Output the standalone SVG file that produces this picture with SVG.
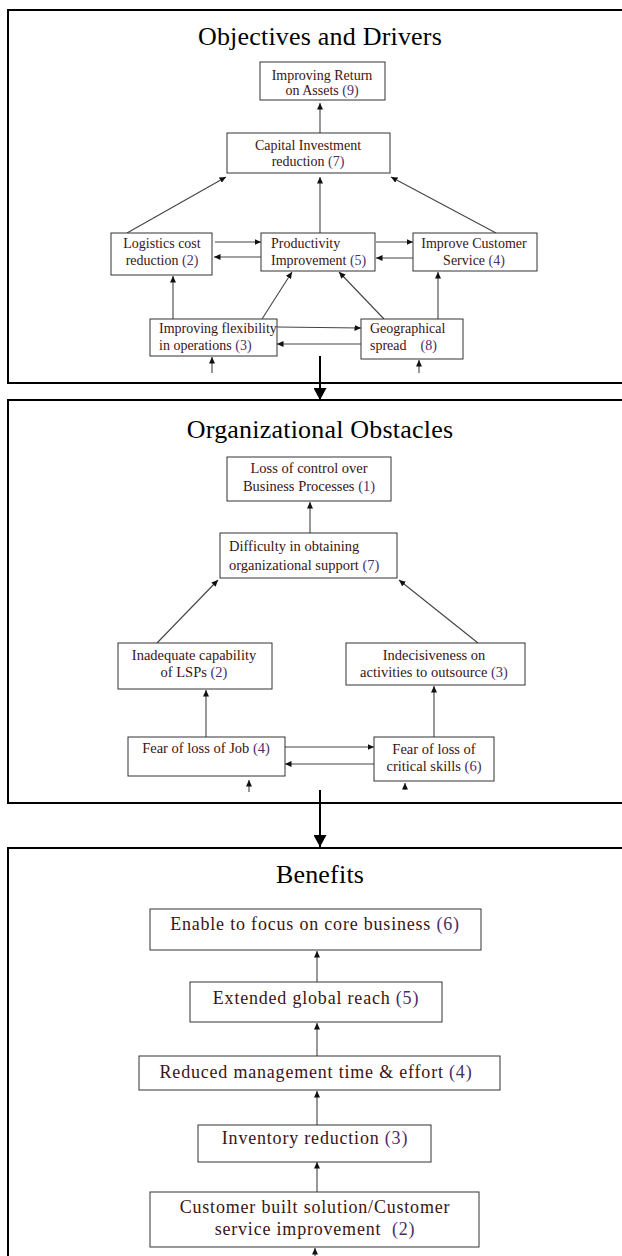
<svg xmlns="http://www.w3.org/2000/svg" width="622" height="1256" viewBox="0 0 622 1256">
<style>
.frame{fill:none;stroke:#000;stroke-width:2}
.title{font-family:"Liberation Serif","Times New Roman",serif;font-size:26px;letter-spacing:0.2px;fill:#000;text-anchor:middle}
.box{fill:#fff;stroke:#333;stroke-width:1}
.t{font-family:"Liberation Serif","Times New Roman",serif;font-size:14px;fill:#3a1414}
.tm{font-size:14.5px}
.tb{font-size:18px;letter-spacing:0.8px}
.c{text-anchor:middle}
.n{fill:#4a2f66}
.con{fill:none;stroke:#444;stroke-width:1.1}
.big{fill:none;stroke:#000;stroke-width:2}
</style>
<defs>
<marker id="ah" markerUnits="userSpaceOnUse" markerWidth="7" markerHeight="6" refX="6.5" refY="3" orient="auto">
<path d="M0,0 L6.5,3 L0,6 z" fill="#111"/>
</marker>
<marker id="ahb" markerUnits="userSpaceOnUse" markerWidth="13" markerHeight="13" refX="12" refY="6.5" orient="auto">
<path d="M0,0 L12,6.5 L0,13 z" fill="#000"/>
</marker>
</defs>

<g id="frames">
<path class="frame" d="M640,10 H8 V383 H640"/>
<path class="frame" d="M640,400 H8 V803 H640"/>
<path class="frame" d="M640,848 H8 V1260"/>
</g>

<g id="titles">
<text class="title" x="320" y="45">Objectives and Drivers</text>
<text class="title" x="320" y="438">Organizational Obstacles</text>
<text class="title" x="320" y="883">Benefits</text>
</g>

<g id="connectors">
<line class="con" x1="320" y1="133" x2="320" y2="103" marker-end="url(#ah)"/>
<line class="con" x1="127" y1="233" x2="226" y2="177" marker-end="url(#ah)"/>
<line class="con" x1="320" y1="233" x2="320" y2="177" marker-end="url(#ah)"/>
<line class="con" x1="496" y1="233" x2="391" y2="177" marker-end="url(#ah)"/>
<line class="con" x1="215" y1="242" x2="261" y2="242" marker-end="url(#ah)"/>
<line class="con" x1="261" y1="257" x2="214" y2="257" marker-end="url(#ah)"/>
<line class="con" x1="376" y1="242" x2="413" y2="242" marker-end="url(#ah)"/>
<line class="con" x1="413" y1="258" x2="376" y2="258" marker-end="url(#ah)"/>
<line class="con" x1="173" y1="319" x2="173" y2="276" marker-end="url(#ah)"/>
<line class="con" x1="262" y1="319" x2="292" y2="272" marker-end="url(#ah)"/>
<line class="con" x1="384" y1="319" x2="339" y2="272" marker-end="url(#ah)"/>
<line class="con" x1="438" y1="319" x2="438" y2="272" marker-end="url(#ah)"/>
<line class="con" x1="277" y1="327" x2="361" y2="328" marker-end="url(#ah)"/>
<line class="con" x1="361" y1="344" x2="277" y2="344" marker-end="url(#ah)"/>
<line class="con" x1="212" y1="373" x2="212" y2="357" marker-end="url(#ah)"/>
<line class="con" x1="419" y1="373" x2="419" y2="360" marker-end="url(#ah)"/>
<line class="big" x1="320" y1="356" x2="320" y2="400" marker-end="url(#ahb)"/>

<line class="con" x1="310" y1="533" x2="310" y2="502" marker-end="url(#ah)"/>
<line class="con" x1="157" y1="643" x2="218" y2="580" marker-end="url(#ah)"/>
<line class="con" x1="478" y1="643" x2="399" y2="580" marker-end="url(#ah)"/>
<line class="con" x1="206" y1="737" x2="206" y2="690" marker-end="url(#ah)"/>
<line class="con" x1="434" y1="737" x2="434" y2="686" marker-end="url(#ah)"/>
<line class="con" x1="285" y1="747" x2="374" y2="747" marker-end="url(#ah)"/>
<line class="con" x1="374" y1="764" x2="285" y2="764" marker-end="url(#ah)"/>
<line class="con" x1="249" y1="792" x2="249" y2="780" marker-end="url(#ah)"/>
<line class="con" x1="405" y1="790" x2="405" y2="783" marker-end="url(#ah)"/>
<line class="big" x1="320" y1="790" x2="320" y2="847" marker-end="url(#ahb)"/>

<line class="con" x1="317" y1="982" x2="317" y2="951" marker-end="url(#ah)"/>
<line class="con" x1="317" y1="1056" x2="317" y2="1023" marker-end="url(#ah)"/>
<line class="con" x1="317" y1="1125" x2="317" y2="1091" marker-end="url(#ah)"/>
<line class="con" x1="317" y1="1192" x2="317" y2="1162" marker-end="url(#ah)"/>
<line class="con" x1="315" y1="1258" x2="315" y2="1248" marker-end="url(#ah)"/>
</g>

<g id="n-roa">
<rect class="box" x="260" y="62" width="125" height="38"/>
<text class="t c" x="322" y="80">Improving Return</text>
<text class="t c" x="322" y="95">on Assets <tspan class="n">(9)</tspan></text>
</g>
<g id="n-capital">
<rect class="box" x="227" y="133" width="163" height="40"/>
<text class="t c" x="308" y="150">Capital Investment</text>
<text class="t c" x="308" y="166">reduction <tspan class="n">(7)</tspan></text>
</g>
<g id="n-logistics">
<rect class="box" x="111" y="233" width="101" height="42"/>
<text class="t c" x="162" y="248">Logistics cost</text>
<text class="t c" x="162" y="265">reduction <tspan class="n">(2)</tspan></text>
</g>
<g id="n-productivity">
<rect class="box" x="261" y="233" width="114" height="38"/>
<text class="t" x="271" y="248">Productivity</text>
<text class="t" x="271" y="265">Improvement <tspan class="n">(5)</tspan></text>
</g>
<g id="n-customer">
<rect class="box" x="413" y="233" width="124" height="38"/>
<text class="t c" x="474" y="248">Improve Customer</text>
<text class="t c" x="474" y="265">Service <tspan class="n">(4)</tspan></text>
</g>
<g id="n-flexibility">
<rect class="box" x="150" y="319" width="127" height="37"/>
<text class="t" x="159" y="333">Improving flexibility</text>
<text class="t" x="159" y="350">in operations <tspan class="n">(3)</tspan></text>
</g>
<g id="n-geo">
<rect class="box" x="361" y="319" width="102" height="40"/>
<text class="t" x="370" y="333">Geographical</text>
<text class="t" x="370" y="350" xml:space="preserve">spread    <tspan class="n">(8)</tspan></text>
</g>

<g id="n-loss-control">
<rect class="box" x="227" y="457" width="164" height="44"/>
<text class="t tm c" x="309" y="473">Loss of control over</text>
<text class="t tm c" x="309" y="491">Business Processes <tspan class="n">(1)</tspan></text>
</g>
<g id="n-difficulty">
<rect class="box" x="220" y="533" width="177" height="45"/>
<text class="t tm" x="229" y="551">Difficulty in obtaining</text>
<text class="t tm" x="229" y="570">organizational support <tspan class="n">(7)</tspan></text>
</g>
<g id="n-inadequate">
<rect class="box" x="118" y="643" width="154" height="46"/>
<text class="t tm c" x="194" y="660">Inadequate capability</text>
<text class="t tm c" x="194" y="677">of LSPs <tspan class="n">(2)</tspan></text>
</g>
<g id="n-indecisive">
<rect class="box" x="346" y="643" width="179" height="42"/>
<text class="t tm c" x="434" y="660">Indecisiveness on</text>
<text class="t tm c" x="434" y="677">activities to outsource <tspan class="n">(3)</tspan></text>
</g>
<g id="n-fear-job">
<rect class="box" x="128" y="737" width="157" height="39"/>
<text class="t tm c" x="206" y="753">Fear of loss of Job <tspan class="n">(4)</tspan></text>
</g>
<g id="n-fear-skills">
<rect class="box" x="374" y="737" width="120" height="44"/>
<text class="t tm c" x="434" y="754">Fear of loss of</text>
<text class="t tm c" x="434" y="771">critical skills <tspan class="n">(6)</tspan></text>
</g>

<g id="n-focus">
<rect class="box" x="150" y="909" width="331" height="41"/>
<text class="t tb c" x="315" y="930">Enable to focus on core business <tspan class="n">(6)</tspan></text>
</g>
<g id="n-global">
<rect class="box" x="190" y="982" width="252" height="40"/>
<text class="t tb c" x="316" y="1004">Extended global reach <tspan class="n">(5)</tspan></text>
</g>
<g id="n-mgmt">
<rect class="box" x="139" y="1056" width="361" height="34"/>
<text class="t tb c" x="316" y="1078">Reduced management time &amp; effort <tspan class="n">(4)</tspan></text>
</g>
<g id="n-inventory">
<rect class="box" x="198" y="1125" width="233" height="37"/>
<text class="t tb c" x="315" y="1144">Inventory reduction <tspan class="n">(3)</tspan></text>
</g>
<g id="n-custom">
<rect class="box" x="150" y="1192" width="329" height="55"/>
<text class="t tb c" x="315" y="1213">Customer built solution/Customer</text>
<text class="t tb c" x="315" y="1235" xml:space="preserve">service improvement  <tspan class="n">(2)</tspan></text>
</g>
</svg>
